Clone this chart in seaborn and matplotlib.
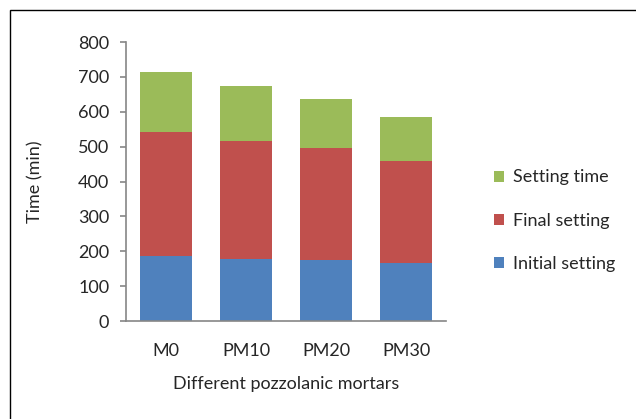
import matplotlib
matplotlib.use("Agg")
import matplotlib.pyplot as plt
import seaborn as sns
import numpy as np
from matplotlib.patches import Rectangle

# ---------------------------------------------------------------------------
# Data (segment heights, stacked bottom to top)
# ---------------------------------------------------------------------------
mortars = ["M0", "PM10", "PM20", "PM30"]
initial_setting = [185, 179, 176, 167]
final_setting = [357, 338, 319, 293]
setting_time = [171, 156, 142, 125]

series_names = ["Initial setting", "Final setting", "Setting time"]
series_colors = ["#4F81BD", "#C0504D", "#9BBB59"]

sns.set_style("white")
plt.rcParams["font.family"] = ["Lato", "DejaVu Sans"]
FS = 13

fig = plt.figure(figsize=(6.36, 4.19), dpi=100)
ax = fig.add_axes([126 / 636, 1 - 321 / 419, 320 / 636, (321 - 42) / 419])

bottom = np.zeros(len(mortars))
for name, vals, col in zip(series_names,
                           [initial_setting, final_setting, setting_time],
                           series_colors):
    sns.barplot(x=mortars, y=vals, bottom=bottom, color=col, width=0.64,
                saturation=1, ax=ax, label=name, edgecolor="none", linewidth=0)
    bottom = bottom + np.array(vals)

ax.set_xlim(-0.5, 3.5)
ax.set_ylim(0, 800)
ax.set_yticks(range(0, 801, 100))

for s in ["top", "right"]:
    ax.spines[s].set_visible(False)
for s in ["left", "bottom"]:
    ax.spines[s].set_color("#868686")
    ax.spines[s].set_linewidth(1.2)

ax.tick_params(axis="y", left=True, length=4, width=1.2, color="#868686",
               pad=8, labelsize=FS)
ax.tick_params(axis="x", bottom=False, length=0, pad=16, labelsize=FS)

ax.set_xlabel("Different pozzolanic mortars", fontsize=FS, labelpad=12)
ax.set_ylabel("Time (min)", fontsize=FS, labelpad=25)

handles, labels = ax.get_legend_handles_labels()
ax.legend(handles[::-1], labels[::-1], loc="center left",
          bbox_to_anchor=(1.1, 0.36), frameon=False, fontsize=FS,
          handlelength=0.55, handleheight=0.55, handletextpad=0.5,
          labelspacing=1.5)

# outer frame of the chart area
fig.patches.append(Rectangle((10 / 636, -0.01), 1.0, 1 - 10 / 419 + 0.01,
                             transform=fig.transFigure, fill=False,
                             edgecolor="black", linewidth=1.0))

fig.savefig("out.png", dpi=100)
